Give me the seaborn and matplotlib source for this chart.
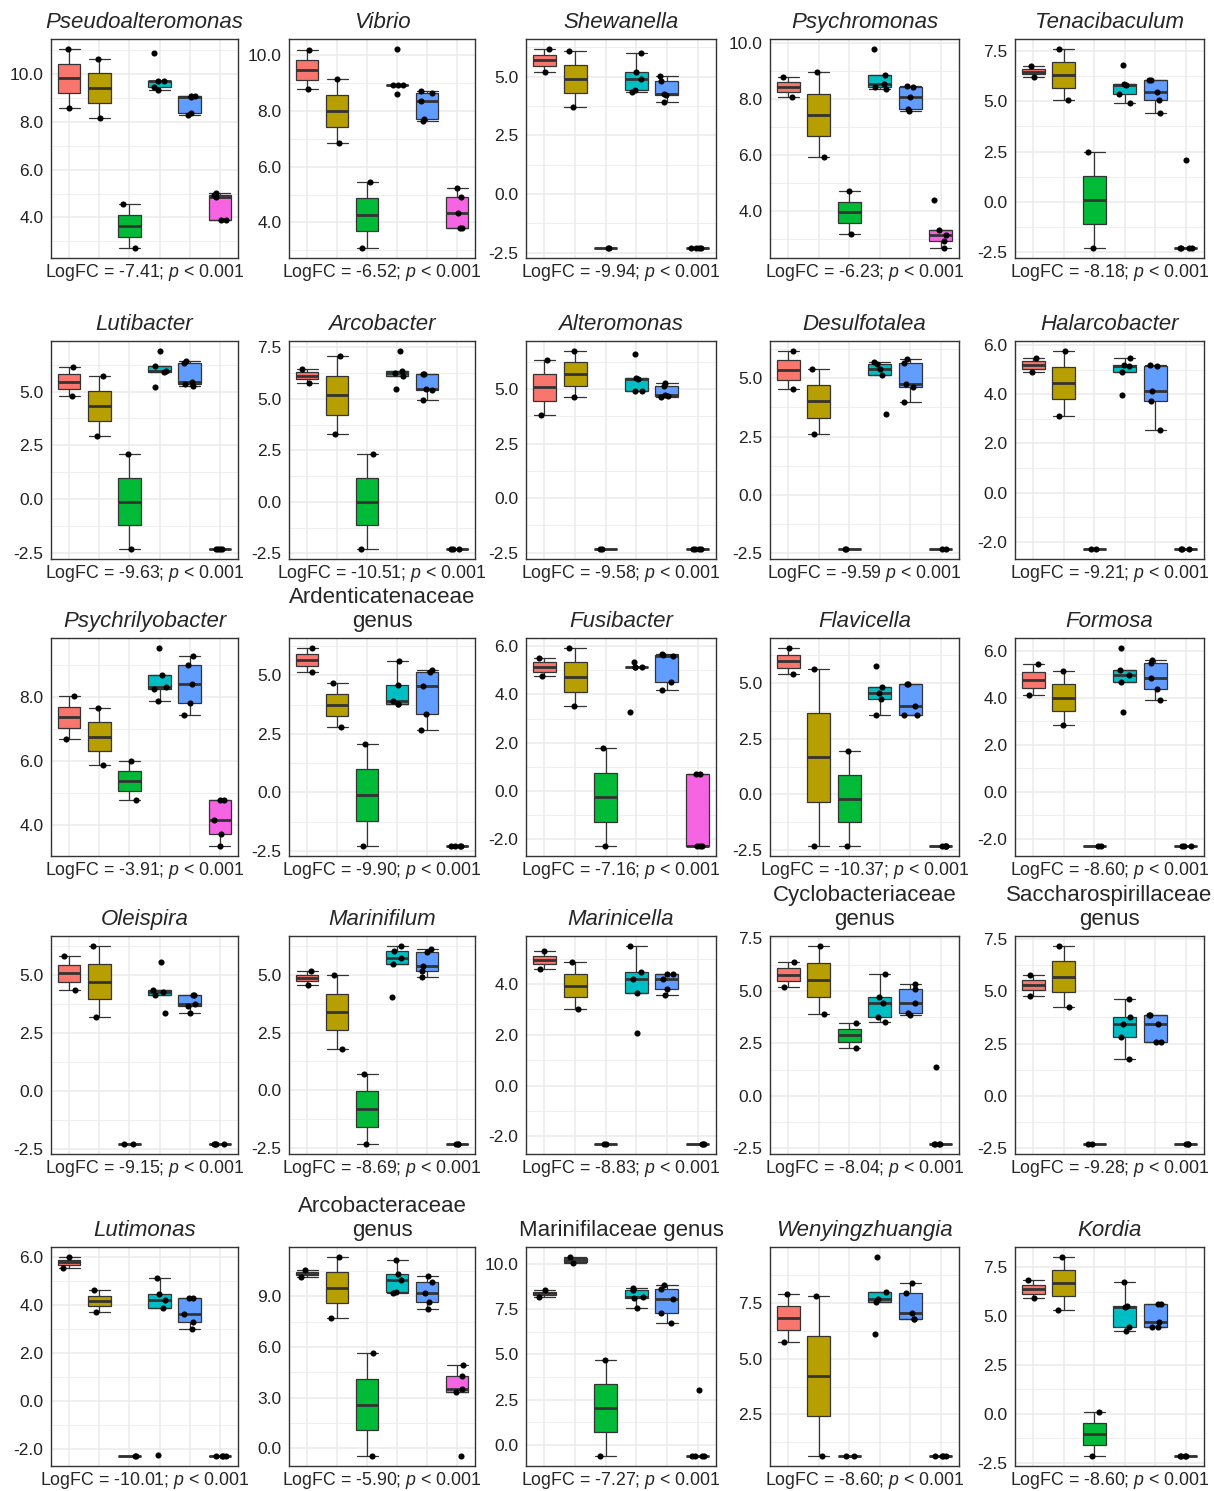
import numpy as np
import pandas as pd
import matplotlib
matplotlib.use("Agg")
import matplotlib.pyplot as plt
import seaborn as sns
from matplotlib.ticker import MultipleLocator, FormatStrFormatter

# six sample groups, hidden x axis
groups = ["G1", "G2", "G3", "G4", "G5", "G6"]
group_colors = ["#F8766D", "#B79F00", "#00BA38", "#00BFC4", "#619CFF", "#F564E3"]

# values, one list per group
pseudoalteromonas = [[8.6, 11.05], [8.15, 10.65], [2.72, 4.55],
                     [9.32, 9.44, 9.69, 9.71, 10.88], [8.3, 8.36, 9.05, 9.08, 9.09],
                     [3.88, 3.9, 4.87, 4.95, 5.01]]
vibrio = [[8.77, 10.18], [6.83, 9.14], [3.08, 5.46],
          [8.6, 8.91, 8.93, 8.94, 10.22], [7.65, 7.71, 8.35, 8.63, 8.72],
          [3.79, 3.81, 4.32, 4.9, 5.22]]
shewanella = [[5.2, 6.18], [3.72, 6.09], [-2.3, -2.3],
              [4.36, 4.43, 4.89, 5.2, 5.99], [3.93, 4.22, 4.25, 4.83, 5.03],
              [-2.3, -2.3, -2.3, -2.3]]
psychromonas = [[8.09, 8.78], [5.92, 8.96], [3.18, 4.69],
                [8.35, 8.42, 8.53, 8.85, 9.8], [7.58, 7.64, 8.09, 8.42, 8.47],
                [2.66, 2.92, 3.14, 3.32, 4.39]]
tenacibaculum = [[6.2, 6.74], [5.04, 7.6], [-2.3, 2.47],
                 [4.91, 5.34, 5.79, 5.84, 6.8], [4.43, 5.04, 5.46, 6.04, 6.07],
                 [-2.3, -2.3, -2.3, -2.3, 2.07]]
lutibacter = [[4.78, 6.13], [2.94, 5.73], [-2.33, 2.08],
              [5.23, 5.93, 5.97, 6.21, 6.89], [5.25, 5.36, 5.43, 6.33, 6.41],
              [-2.33, -2.33, -2.33, -2.33]]
arcobacter = [[5.77, 6.45], [3.27, 7.05], [-2.29, 2.32],
              [5.48, 6.08, 6.24, 6.37, 7.32], [4.92, 5.42, 5.47, 6.18, 6.19],
              [-2.29, -2.29, -2.29]]
alteromonas = [[3.82, 6.32], [4.62, 6.74], [-2.33, -2.33],
               [4.89, 4.89, 5.45, 5.5, 6.59], [4.62, 4.67, 4.74, 5.15, 5.26],
               [-2.33, -2.33, -2.33, -2.33]]
desulfotalea = [[4.54, 6.18], [2.62, 5.4], [-2.33, -2.33],
                [3.48, 5.13, 5.4, 5.61, 5.71], [3.98, 4.64, 4.76, 5.68, 5.83],
                [-2.33, -2.33]]
halarcobacter = [[4.89, 5.49], [3.13, 5.76], [-2.3, -2.3],
                 [3.98, 4.89, 5.16, 5.17, 5.49], [2.56, 3.73, 4.11, 5.16, 5.17],
                 [-2.3, -2.3, -2.3]]
psychrilyobacter = [[6.69, 8.02], [5.86, 7.66], [4.77, 6.01],
                    [7.87, 8.23, 8.31, 8.69, 9.52], [7.43, 7.81, 8.41, 9.0, 9.27],
                    [3.35, 3.73, 4.15, 4.77, 4.78]]
ardenticatenaceae = [[5.14, 6.18], [2.78, 4.69], [-2.3, 2.08],
                     [3.76, 3.78, 3.89, 4.6, 5.61], [2.65, 3.35, 4.57, 5.17, 5.23],
                     [-2.3, -2.3, -2.3, -2.3]]
fusibacter = [[4.76, 5.53], [3.52, 5.93], [-2.28, 1.78],
              [3.27, 5.12, 5.13, 5.15, 5.34], [4.17, 4.5, 5.59, 5.64, 5.68],
              [-2.28, -2.28, -2.28, 0.69, 0.7]]
flavicella = [[5.37, 6.56], [-2.31, 5.63], [-2.31, 1.95],
              [3.57, 4.29, 4.54, 4.79, 5.74], [3.54, 3.57, 3.94, 4.93, 4.94],
              [-2.31, -2.31, -2.31, -2.31]]
formosa = [[4.1, 5.41], [2.85, 5.15], [-2.3, -2.3],
           [3.39, 4.67, 4.98, 5.17, 6.11], [3.88, 4.35, 4.84, 5.48, 5.59],
           [-2.3, -2.3, -2.3]]
oleispira = [[4.33, 5.79], [3.17, 6.24], [-2.3, -2.3],
             [3.36, 4.14, 4.24, 4.36, 5.53], [3.36, 3.64, 3.74, 4.11, 4.12],
             [-2.3, -2.3, -2.3, -2.3]]
marinifilum = [[4.58, 5.16], [1.8, 5.0], [-2.34, 0.71],
               [4.06, 5.5, 5.76, 6.05, 6.27], [4.9, 5.16, 5.4, 6.02, 6.15],
               [-2.34, -2.34, -2.34]]
marinicella = [[4.61, 5.29], [3.01, 4.87], [-2.3, -2.3],
               [2.09, 3.66, 4.18, 4.46, 5.5], [3.57, 3.79, 4.18, 4.38, 4.4],
               [-2.3, -2.3, -2.3]]
cyclobacteriaceae = [[5.16, 6.38], [3.9, 7.14], [2.29, 3.46],
                     [3.53, 3.77, 4.4, 4.69, 5.79], [3.85, 3.94, 4.4, 5.08, 5.32],
                     [-2.3, -2.3, -2.3, -2.3, 1.37]]
saccharospirillaceae = [[4.8, 5.76], [4.24, 7.17], [-2.3, -2.3],
                        [1.76, 2.83, 3.44, 3.76, 4.64], [2.56, 2.56, 3.44, 3.87, 3.88],
                        [-2.3, -2.3, -2.3]]
lutimonas = [[5.54, 6.0], [3.72, 4.6], [-2.31, -2.31],
             [-2.25, 3.89, 4.21, 4.45, 5.12], [3.0, 3.27, 3.62, 4.28, 4.29],
             [-2.31, -2.31, -2.31, -2.31]]
arcobacteraceae = [[10.13, 10.57], [7.69, 11.33], [-0.46, 5.62],
                   [9.22, 9.24, 9.95, 10.33, 11.17], [8.24, 8.68, 9.18, 9.83, 10.23],
                   [-0.46, 3.35, 3.51, 4.27, 4.92]]
marinifilaceae = [[8.16, 8.55], [10.03, 10.37], [-0.61, 4.67],
                  [7.57, 8.13, 8.16, 8.55, 8.64], [6.75, 7.3, 8.03, 8.62, 8.81],
                  [-0.61, -0.61, -0.61, -0.61, 3.03]]
wenyingzhuangia = [[5.73, 7.91], [0.64, 7.8], [0.64, 0.64],
                   [6.12, 7.53, 7.65, 7.98, 9.55], [6.78, 6.79, 7.02, 7.92, 8.4],
                   [0.64, 0.64, 0.64, 0.64]]
kordia = [[5.9, 6.84], [5.33, 8.02], [-2.15, 0.09],
          [4.22, 4.44, 5.48, 5.5, 6.75], [4.43, 4.44, 4.68, 5.62, 5.64],
          [-2.15, -2.15, -2.15, -2.15]]

panels = [pseudoalteromonas, vibrio, shewanella, psychromonas, tenacibaculum,
          lutibacter, arcobacter, alteromonas, desulfotalea, halarcobacter,
          psychrilyobacter, ardenticatenaceae, fusibacter, flavicella, formosa,
          oleispira, marinifilum, marinicella, cyclobacteriaceae, saccharospirillaceae,
          lutimonas, arcobacteraceae, marinifilaceae, wenyingzhuangia, kordia]

titles = ["Pseudoalteromonas", "Vibrio", "Shewanella", "Psychromonas", "Tenacibaculum",
          "Lutibacter", "Arcobacter", "Alteromonas", "Desulfotalea", "Halarcobacter",
          "Psychrilyobacter", "Ardenticatenaceae\ngenus", "Fusibacter", "Flavicella", "Formosa",
          "Oleispira", "Marinifilum", "Marinicella", "Cyclobacteriaceae\ngenus",
          "Saccharospirillaceae\ngenus",
          "Lutimonas", "Arcobacteraceae\ngenus", "Marinifilaceae genus", "Wenyingzhuangia", "Kordia"]

logfc = ["-7.41", "-6.52", "-9.94", "-6.23", "-8.18",
         "-9.63", "-10.51", "-9.58", "-9.59", "-9.21",
         "-3.91", "-9.90", "-7.16", "-10.37", "-8.60",
         "-9.15", "-8.69", "-8.83", "-8.04", "-9.28",
         "-10.01", "-5.90", "-7.27", "-8.60", "-8.60"]
separators = [";"] * 25
separators[8] = ""

ytick_steps = [2.0, 2.0, 2.5, 2.0, 2.5,
               2.5, 2.5, 2.5, 2.5, 2.0,
               2.0, 2.5, 2.0, 2.5, 2.0,
               2.5, 2.5, 2.0, 2.5, 2.5,
               2.0, 3.0, 2.5, 2.5, 2.5]

# layout in pixels of the 1214x1491 figure
W, H = 1214, 1491
col_left = [51, 289, 526, 770, 1015]
col_width = [187, 186, 190, 189, 189]
row_top = [39, 341, 638, 936, 1247]
row_height = [219, 218, 218, 218, 219]

sns.set_style("white")
plt.rcParams["font.family"] = ["Liberation Sans", "DejaVu Sans"]
plt.rcParams["axes.unicode_minus"] = False
plt.rcParams["mathtext.fontset"] = "custom"
plt.rcParams["mathtext.rm"] = "Liberation Sans"
plt.rcParams["mathtext.it"] = "Liberation Sans:italic"

fig = plt.figure(figsize=(W / 100, H / 100), dpi=100)

for i, vals in enumerate(panels):
    r, c = divmod(i, 5)
    ax = fig.add_axes([col_left[c] / W, 1 - (row_top[r] + row_height[r]) / H,
                       col_width[c] / W, row_height[r] / H])
    df = pd.DataFrame({
        "group": [g for g, v in zip(groups, vals) for _ in v],
        "value": [x for v in vals for x in v],
    })
    sns.boxplot(data=df, x="group", y="value", hue="group", order=groups,
                hue_order=groups, palette=group_colors, saturation=1, width=0.75,
                linecolor="#333333", linewidth=0.9, showfliers=False, legend=False,
                medianprops={"linewidth": 2.0}, capwidths=0.7, ax=ax)
    sns.stripplot(data=df, x="group", y="value", order=groups, color="black",
                  size=4.4, jitter=0.22, ax=ax, zorder=3)

    lo, hi = df["value"].min(), df["value"].max()
    pad = 0.05 * (hi - lo)
    ax.set_ylim(lo - pad, hi + pad)
    ax.set_xlim(-0.6, 5.6)
    step = ytick_steps[i]
    ax.yaxis.set_major_locator(MultipleLocator(step))
    ax.yaxis.set_minor_locator(MultipleLocator(step / 2))
    ax.yaxis.set_major_formatter(FormatStrFormatter("%.1f"))

    ax.set_xticks(range(len(groups)))
    ax.set_xticklabels([])
    ax.tick_params(axis="x", length=0, pad=0)
    ax.tick_params(axis="y", which="major", length=3.5, width=0.8, color="#333333",
                   labelsize=12.5, labelcolor="#222222", pad=2)
    ax.tick_params(axis="y", which="minor", length=0)

    ax.set_axisbelow(True)
    ax.grid(True, which="major", axis="both", color="#EBEBEB", linewidth=1.1)
    ax.grid(True, which="minor", axis="y", color="#EBEBEB", linewidth=0.55)
    for s in ax.spines.values():
        s.set_color("#333333")
        s.set_linewidth(1.0)

    italic = "genus" not in titles[i]
    ax.set_title(titles[i], fontsize=16, fontstyle="italic" if italic else "normal",
                 pad=8)
    ax.set_ylabel("")
    ax.set_xlabel("LogFC = %s%s $\\mathit{p}$ < 0.001" % (logfc[i], separators[i]),
                  fontsize=12.8, labelpad=3)

fig.savefig("out.png", dpi=100)
